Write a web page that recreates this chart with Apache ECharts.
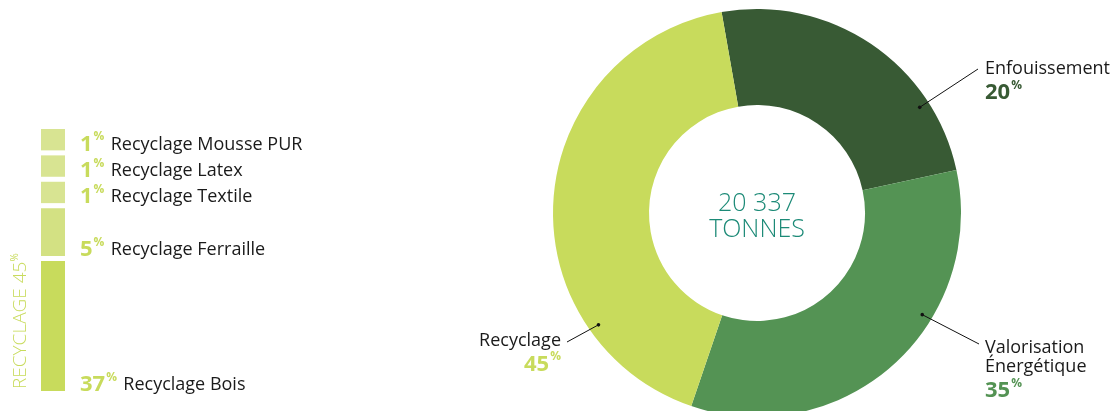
<!DOCTYPE html>
<html><head><meta charset="utf-8">
<script src="https://cdn.jsdelivr.net/npm/echarts@6/dist/echarts.min.js"></script>
<style>html,body{margin:0;padding:0;background:#fff}#c{width:1111px;height:411px}</style>
</head><body><div id="c"></div>
<script>
// ---- Donut: treatment routes ----
const routeNames = ['Enfouissement', 'Valorisation\nÉnergétique', 'Recyclage'];
const routePctText = ['20', '35', '45'];
const routeShare = [24.4, 33.6, 42.0];           // slice sizes as drawn
const routeColors = ['#385a34', '#549354', '#c8db5c'];
const totalTonnes = '20 337';
const totalUnit = 'TONNES';

// ---- Recycling breakdown (bottom to top) ----
const recyNames = ['Recyclage Bois', 'Recyclage Ferraille', 'Recyclage Textile', 'Recyclage Latex', 'Recyclage Mousse PUR'];
const recyPct = [37, 5, 1, 1, 1];
const recyColors = ['#c8db5c', '#d3e183', '#d8e492', '#d8e492', '#d8e492'];
const recyTitle = 'RECYCLAGE 45';

const FONT = '"Open Sans", "Noto Sans", sans-serif';
const PIE_C = [757, 213];
const PIE_R = [108, 204];
const GAP = 5;

const sq = recyPct.map(v => Math.sqrt(v));
const cum = []; let acc = 0;
sq.forEach(s => { cum.push(acc); acc += s; });

const chart = echarts.init(document.getElementById('c'), null, {renderer: 'canvas'});

function pctRich(color, big, small) {
  return {
    p: {fontFamily: FONT, fontWeight: 'bold', fontSize: big, fill: color, color: color, lineHeight: 29},
    s: {fontFamily: FONT, fontWeight: 'bold', fontSize: small, fill: color, color: color, verticalAlign: 'top', lineHeight: 29, padding: [1, 3, 0, 1]},
    n: {fontFamily: FONT, fontSize: 18, fill: '#1a1a1a', color: '#1a1a1a', lineHeight: 19}
  };
}

// annotation anchors (angle clockwise from top, deg) and leader end points
const annAngle = [57, 121.6, 234.8];
const annRad = 194;
const annEnd = [[978, 69], [979, 344], [567, 342]];
const annText = [[985, 59.5, 'left'], [985, 338.5, 'left'], [561, 331, 'right']];

const graphics = [];
routeNames.forEach((nm, i) => {
  const a = annAngle[i] * Math.PI / 180;
  const dx = PIE_C[0] + annRad * Math.sin(a), dy = PIE_C[1] - annRad * Math.cos(a);
  graphics.push({type: 'line', z: 10, shape: {x1: dx, y1: dy, x2: annEnd[i][0], y2: annEnd[i][1]}, style: {stroke: '#111', lineWidth: 1}});
  graphics.push({type: 'circle', z: 10, shape: {cx: dx, cy: dy, r: 1.8}, style: {fill: '#111'}});
  const lines = nm.split('\n').map(t => '{n|' + t + '}');
  lines.push('{p|' + routePctText[i] + '}{s|%}');
  const rich = pctRich(routeColors[i], 22, 12);
  rich.s.padding = [1, 0, 0, 1];
  graphics.push({type: 'text', z: 10, x: annText[i][0], y: annText[i][1], style: {
    text: lines.join('\n'), align: annText[i][2], verticalAlign: 'top', rich: rich
  }});
});
graphics.push({type: 'text', x: PIE_C[0], y: PIE_C[1] + 4, style: {
  text: totalTonnes + '\n' + totalUnit, align: 'center', verticalAlign: 'middle',
  fontFamily: FONT, fontWeight: 300, fontSize: 25, lineHeight: 26, fill: '#1c8a77'
}});
graphics.push({type: 'text', x: 21, y: 389, rotation: Math.PI / 2, style: {
  text: '{a|' + recyTitle + '}{b|%}', align: 'left', verticalAlign: 'middle',
  rich: {
    a: {fontFamily: FONT, fontWeight: 300, fontSize: 19, fill: '#c8db5c', lineHeight: 22},
    b: {fontFamily: FONT, fontSize: 10, fill: '#c8db5c', verticalAlign: 'top', lineHeight: 22}
  }
}});

chart.setOption({
  animation: false,
  graphic: graphics,
  grid: {left: 41, width: 24, top: 149, bottom: 20},
  xAxis: {type: 'category', data: ['r'], show: false},
  yAxis: {type: 'value', min: 0, max: acc, show: false},
  series: [
    {
      type: 'pie', center: PIE_C, radius: PIE_R, startAngle: 100, clockwise: true,
      label: {show: false}, labelLine: {show: false}, emphasis: {disabled: true},
      itemStyle: {borderWidth: 0},
      data: routeShare.map((v, i) => ({value: v, name: routeNames[i], itemStyle: {color: routeColors[i]}}))
    },
    {
      type: 'custom',
      data: recyPct.map((v, i) => [0, v, i]),
      renderItem: function (params, api) {
        const i = params.dataIndex;
        const b = api.coord([0, cum[i]]);
        const t = api.coord([0, cum[i] + sq[i]]);
        const w = api.size([1, 0])[0];
        const shift = i * GAP;
        const x = b[0] - w / 2;
        const y0 = b[1] - shift, y1 = t[1] - shift;
        return {type: 'group', children: [
          {type: 'rect', shape: {x: x, y: y1, width: w, height: y0 - y1}, style: {fill: recyColors[i]}},
          {type: 'text', x: x + w + 15, y: y0 - 6, style: {
            text: '{p|' + recyPct[i] + '}{s|%} {n|' + recyNames[i] + '}',
            align: 'left', verticalAlign: 'middle',
            rich: pctRich('#c8db5c', 22, 12)
          }}
        ]};
      }
    }
  ]
});
</script></body></html>
